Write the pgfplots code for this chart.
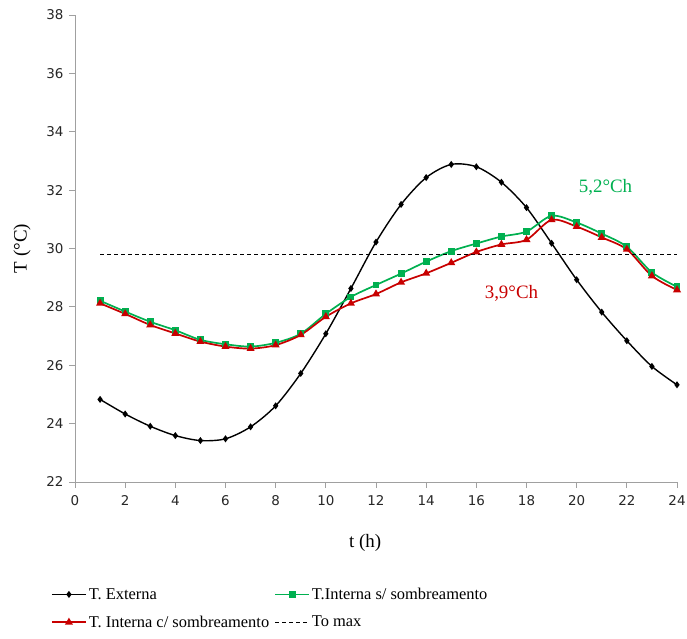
\documentclass[border=0pt]{standalone}
\usepackage{pgfplots}
\pgfplotsset{compat=1.18}
\usepackage{fontspec}
\setmainfont{Liberation Serif}
\newfontfamily\tickfont{DejaVu Sans}

\definecolor{exgreen}{RGB}{0,176,80}
\definecolor{exred}{RGB}{200,0,0}
\definecolor{axgray}{RGB}{160,160,160}

\begin{document}
\begin{tikzpicture}
\useasboundingbox (-75bp,-157bp) rectangle (612bp,482bp);
\begin{axis}[
  scale only axis,
  width=602bp, height=467bp,
  xmin=0, xmax=24, ymin=22, ymax=38,
  xtick={0,2,...,24}, ytick={22,24,...,38},
  axis x line*=bottom, axis y line*=left,
  axis line style={-, draw=axgray, line width=0.8bp},
  tick style={draw=axgray, line width=0.8bp},
  tick align=outside, major tick length=6bp,
  /pgf/number format/assume math mode=true,
  ticklabel style={font=\tickfont\fontsize{13.5}{14}\selectfont, text=black!85},
  xticklabel style={yshift=-4bp},
  yticklabel style={xshift=-2bp},
  xlabel={t (h)}, ylabel={T (°C)},
  label style={font=\fontsize{19}{22}\selectfont},
  xlabel style={at={(axis description cs:0.482,-0.131)}, anchor=center},
  ylabel style={at={(axis description cs:-0.088,0.5)}, anchor=center},
  legend columns=2,
  legend style={at={(-0.045,-0.218)}, anchor=north west, draw=none, fill=none,
    font=\fontsize{16.5}{19}\selectfont, row sep=11bp,
    /tikz/every even column/.append style={column sep=3bp}},
  legend cell align=left,
  legend image code/.code={%
    \draw[mark repeat=2, mark phase=2, #1] plot coordinates {(0bp,0bp) (17bp,0bp) (34bp,0bp)};},
]
\addplot[black, line width=1.4bp, smooth, mark=diamond*, mark size=2.4bp,
  mark options={solid}] coordinates {
  (1,24.83) (2,24.33) (3,23.91) (4,23.59) (5,23.42) (6,23.48) (7,23.89) (8,24.61)
  (9,25.72) (10,27.08) (11,28.63) (12,30.22) (13,31.51) (14,32.43) (15,32.88)
  (16,32.80) (17,32.27) (18,31.40) (19,30.18) (20,28.93) (21,27.82) (22,26.84)
  (23,25.96) (24,25.33)};
\addlegendentry{T. Externa}
\addplot[exgreen, line width=1.7bp, smooth, mark=square*, mark size=2.6bp] coordinates {
  (1,28.21) (2,27.84) (3,27.49) (4,27.20) (5,26.87) (6,26.72) (7,26.64) (8,26.77)
  (9,27.08) (10,27.76) (11,28.34) (12,28.75) (13,29.14) (14,29.55) (15,29.91)
  (16,30.17) (17,30.41) (18,30.58) (19,31.12) (20,30.89) (21,30.51) (22,30.06)
  (23,29.18) (24,28.69)};
\addlegendentry{T.Interna s/ sombreamento}
\addplot[exred, line width=1.7bp, smooth, mark=triangle*, mark size=3bp] coordinates {
  (1,28.12) (2,27.76) (3,27.38) (4,27.09) (5,26.81) (6,26.64) (7,26.57) (8,26.69)
  (9,27.04) (10,27.66) (11,28.12) (12,28.44) (13,28.84) (14,29.15) (15,29.51)
  (16,29.88) (17,30.14) (18,30.30) (19,30.98) (20,30.75) (21,30.38) (22,29.97)
  (23,29.06) (24,28.58)};
\addlegendentry{T. Interna c/ sombreamento}
\addplot[black, line width=1bp, dash pattern=on 4bp off 3bp] coordinates {
  (1,29.8) (24,29.8)};
\addlegendentry{To max}
\node[text=exgreen, font=\fontsize{19}{22}\selectfont] at (axis cs:21.15,32.1) {5,2°Ch};
\node[text=exred, font=\fontsize{19}{22}\selectfont] at (axis cs:17.4,28.45) {3,9°Ch};
\end{axis}
\end{tikzpicture}
\end{document}
